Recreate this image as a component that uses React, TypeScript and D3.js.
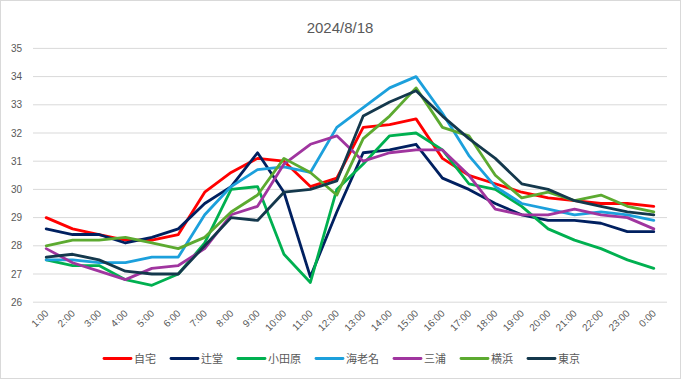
import React from "react";
import * as d3 from "d3";

const hours = ["1:00","2:00","3:00","4:00","5:00","6:00","7:00","8:00","9:00","10:00","11:00","12:00","13:00","14:00","15:00","16:00","17:00","18:00","19:00","20:00","21:00","22:00","23:00","0:00"];

const seriesNames = ["自宅","辻堂","小田原","海老名","三浦","横浜","東京"];
const seriesColors = ["#FF0000","#002060","#00B050","#1CA0DC","#A0359F","#5CAA30","#14384C"];

const jitaku = [29.0,28.6,28.4,28.2,28.2,28.4,29.9,30.6,31.1,31.0,30.1,30.4,32.2,32.3,32.5,31.1,30.5,30.2,29.9,29.7,29.6,29.5,29.5,29.4];
const tsujido = [28.6,28.4,28.4,28.1,28.3,28.6,29.5,30.1,31.3,29.9,26.9,29.2,31.3,31.4,31.6,30.4,30.0,29.5,29.1,28.9,28.9,28.8,28.5,28.5];
const odawara = [27.5,27.3,27.3,26.8,26.6,27.0,28.1,30.0,30.1,27.7,26.7,30.0,30.9,31.9,32.0,31.4,30.2,30.0,29.4,28.6,28.2,27.9,27.5,27.2];
const ebina = [27.5,27.5,27.4,27.4,27.6,27.6,29.1,30.1,30.7,30.8,30.6,32.2,32.9,33.6,34.0,32.7,31.2,30.1,29.5,29.3,29.1,29.2,29.1,28.9];
const miura = [27.9,27.4,27.1,26.8,27.2,27.3,27.9,29.1,29.4,30.9,31.6,31.9,31.0,31.3,31.4,31.4,30.5,29.3,29.1,29.1,29.3,29.1,29.0,28.6];
const yokohama = [28.0,28.2,28.2,28.3,28.1,27.9,28.3,29.2,29.8,31.1,30.6,29.8,31.8,32.6,33.6,32.2,31.9,30.5,29.7,29.9,29.6,29.8,29.4,29.2];
const tokyo = [27.6,27.7,27.5,27.1,27.0,27.0,28.0,29.0,28.9,29.9,30.0,30.3,32.6,33.1,33.5,32.6,31.8,31.1,30.2,30.0,29.6,29.4,29.2,29.1];

const seriesValues = [jitaku, tsujido, odawara, ebina, miura, yokohama, tokyo];
const yTicks = [26,27,28,29,30,31,32,33,34,35];

const W = 681, H = 379;
const textColor = "#595959";
const latin = "'Liberation Sans', Arial, sans-serif";
const cjk = "'Noto Sans CJK JP', 'Liberation Sans', sans-serif";

export default function App() {
  const x = d3.scalePoint<string>().domain(hours).range([33, 667]).padding(0.5);
  const y = d3.scaleLinear().domain([26, 35]).range([302.2, 48.4]);
  const line = d3.line<number>().x((_, i) => x(hours[i]) as number).y(d => y(d));

  // legend layout
  const lineLen = 27, gap = 3, itemGap = 15, fs = 11;
  const widths = seriesNames.map(n => lineLen + gap + n.length * fs);
  const total = widths.reduce((a, b) => a + b, 0) + itemGap * (seriesNames.length - 1);
  let lx = 342 - total / 2;
  const legendPos = widths.map(w => { const p = lx; lx += w + itemGap; return p; });
  const ly = 358.5;

  return (
    <svg width={W} height={H} style={{ position: "absolute", left: 0, top: 0, background: "#fff" }}>
      <rect x={0.5} y={0.5} width={W - 1} height={H - 1} fill="#fff" stroke="#D9D9D9" />
      <text x={340} y={33} textAnchor="middle" fontFamily={latin} fontSize={15} fill={textColor}>2024/8/18</text>
      {yTicks.map(t => (
        <g key={t}>
          <line x1={33} x2={667} y1={y(t)} y2={y(t)} stroke="#D9D9D9" strokeWidth={1} />
          <text x={22} y={y(t) + 3.5} textAnchor="end" fontFamily={latin} fontSize={10} fill={textColor}>{t}</text>
        </g>
      ))}
      {hours.map(h => (
        <text key={h} transform={`translate(${(x(h) as number) + 3},${314}) rotate(-45)`} textAnchor="end" fontFamily={latin} fontSize={10} fill={textColor}>{h}</text>
      ))}
      {seriesValues.map((vals, si) => (
        <path key={si} d={line(vals) || ""} fill="none" stroke={seriesColors[si]} strokeWidth={2.8} strokeLinejoin="round" strokeLinecap="round" />
      ))}
      {seriesNames.map((n, i) => (
        <g key={n}>
          <line x1={legendPos[i]} x2={legendPos[i] + lineLen} y1={ly} y2={ly} stroke={seriesColors[i]} strokeWidth={2.8} strokeLinecap="round" />
          <text x={legendPos[i] + lineLen + gap} y={ly + 4} fontFamily={cjk} fontSize={fs} fill={textColor}>{n}</text>
        </g>
      ))}
    </svg>
  );
}
